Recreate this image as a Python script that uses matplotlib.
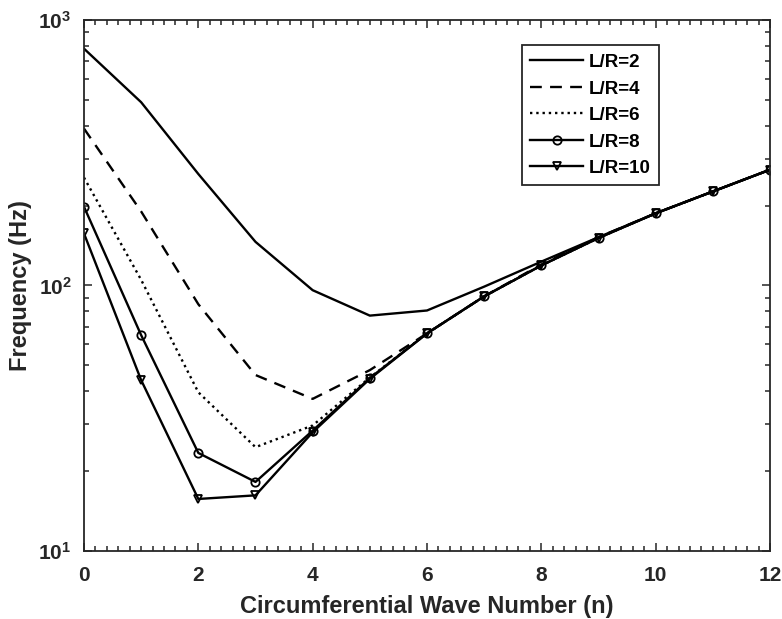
import math
import matplotlib
matplotlib.use('Agg')
import matplotlib.pyplot as plt
from matplotlib.ticker import MultipleLocator, FuncFormatter, LogLocator, NullFormatter

plt.rcParams['font.family'] = ['Liberation Sans', 'DejaVu Sans']
plt.rcParams['font.weight'] = 'bold'
plt.rcParams['mathtext.fontset'] = 'custom'
plt.rcParams['mathtext.bf'] = 'Liberation Sans:bold'
plt.rcParams['mathtext.rm'] = 'Liberation Sans:bold'

# circumferential wave number
n = list(range(13))

# natural frequencies (Hz) for each length/radius ratio
freq_lr2 = [780, 490, 263, 146, 96, 77, 80.5, 99, 123, 152, 187, 226, 273]
freq_lr4 = [390, 190, 85, 46, 37.4, 48, 66, 91, 120, 152, 187, 226, 273]
freq_lr6 = [255, 105, 39.6, 24.6, 29.7, 45, 66, 91, 119, 151, 187, 226, 273]
freq_lr8 = [198, 65, 23.4, 18.2, 28.4, 44.8, 66, 91, 119, 151, 187, 226, 273]
freq_lr10 = [157, 44, 15.7, 16.2, 28, 44.5, 66, 91, 119, 151, 187, 226, 273]

labels = ['L/R=2', 'L/R=4', 'L/R=6', 'L/R=8', 'L/R=10']

fig = plt.figure(figsize=(7.82, 6.19), dpi=100)
ax = fig.add_axes([0.1074, 0.1099, 0.8773, 0.8578])

lw = 1.7
ax.plot(n, freq_lr2, '-', color='black', lw=lw, label=labels[0])
ax.plot(n, freq_lr4, '--', color='black', lw=lw, dashes=(5, 3.5), label=labels[1])
ax.plot(n, freq_lr6, ':', color='black', lw=lw, label=labels[2])
ax.plot(n, freq_lr8, '-', color='black', lw=lw, marker='o', ms=6,
        mfc='none', mew=1.3, label=labels[3])
ax.plot(n, freq_lr10, '-', color='black', lw=lw, marker='v', ms=6,
        mfc='none', mew=1.3, label=labels[4])

ax.set_yscale('log')
ax.set_xlim(0, 12)
ax.set_ylim(10, 1000)
ax.xaxis.set_major_locator(MultipleLocator(2))
ax.xaxis.set_minor_locator(MultipleLocator(0.2))
ax.yaxis.set_major_locator(LogLocator(base=10))
ax.yaxis.set_minor_locator(LogLocator(base=10, subs=range(2, 10)))
ax.yaxis.set_minor_formatter(NullFormatter())
ax.yaxis.set_major_formatter(FuncFormatter(lambda v, p: r'$\mathbf{10^{%d}}$' % round(math.log10(v))))

spine_col = '#262626'
for s in ax.spines.values():
    s.set_color(spine_col)
    s.set_linewidth(1.3)
ax.tick_params(which='both', direction='in', top=True, right=True, colors=spine_col,
               labelcolor='#262626', labelsize=15, width=1.1)
ax.tick_params(which='major', length=6)
ax.tick_params(which='minor', length=3.5)
ax.tick_params(axis='x', pad=11)
ax.tick_params(axis='y', pad=9)
for lab in ax.get_xticklabels():
    lab.set_fontweight('bold')

ax.set_xlabel('Circumferential Wave Number (n)', fontsize=17, fontweight='bold',
              color='#262626', labelpad=7)
ax.set_ylabel('Frequency (Hz)', fontsize=17, fontweight='bold', color='#262626')
ax.yaxis.set_label_coords(-0.076, 0.5)

leg = ax.legend(loc='upper right', bbox_to_anchor=(0.838, 0.952), fontsize=13.5,
                handlelength=2.8, handletextpad=0.3, labelspacing=0.5,
                borderpad=0.45, fancybox=False, framealpha=1,
                edgecolor=spine_col, borderaxespad=0)
leg.get_frame().set_linewidth(1.3)

fig.savefig('out.png', dpi=100)
